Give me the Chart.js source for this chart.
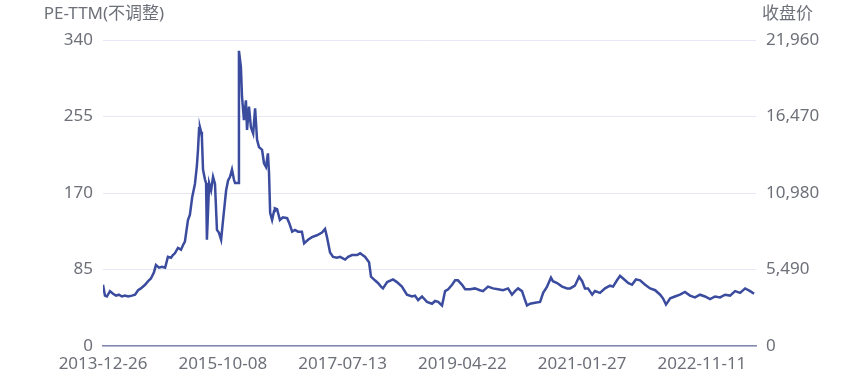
<!DOCTYPE html>
<html>
<head>
<meta charset="utf-8">
<script src="https://cdn.jsdelivr.net/npm/chart.js@4.4.1/dist/chart.umd.min.js"></script>
<style>
html,body{margin:0;padding:0;background:#fff;}
#wrap{width:865px;height:379px;}
</style>
</head>
<body>
<div id="wrap"><canvas id="c" width="865" height="379"></canvas></div>
<script>
// Trading-day index of each sampled point (0 = 2013-12-26)
const peDay = [0,7,14,25,36,47,57,68,79,90,104,115,126,136,151,162,172,183,190,201,212,223,233,244,251,258,269,280,287,294,305,312,320,330,337,341,345,348,352,355,359,366,370,373,381,388,395,402,409,416,424,431,442,449,456,463,470,474,485,488,495,499,503,506,513,517,524,531,539,546,553,560,571,578,585,592,596,600,607,614,617,625,635,646,661,668,679,689,700,714,722,736,750,768,786,797,804,815,826,840,851,869,880,894,912,923,941,955,962,976,987,998,1005,1020,1041,1055,1073,1091,1109,1120,1131,1145,1163,1181,1192,1203,1217,1228,1239,1253,1264,1274,1289,1300,1318,1335,1353,1364,1382,1400,1418,1436,1454,1468,1479,1490,1504,1515,1522,1533,1551,1569,1580,1594,1608,1615,1630,1648,1666,1677,1694,1709,1720,1730,1741,1756,1766,1784,1802,1820,1831,1845,1856,1867,1885,1899,1913,1928,1946,1964,1982,2000,2010,2021,2036,2053,2071,2089,2107,2125,2143,2161,2179,2197,2215,2233,2251,2269,2287,2305,2323,2337];
// PE-TTM values
const peValues = [68,56,55,61,58,56,57,55,56,55,56,57,62,64,68,72,75,82,90,87,88,87,99,98,101,103,109,107,112,116,140,146,165,180,200,218,242,243,238,232,196,185,181,118,181,173,188,180,129,126,118,140,173,184,188,196,185,181,181,328,310,277,262,251,273,240,266,243,236,264,229,221,218,203,199,214,192,148,140,150,153,152,140,143,142,137,127,129,127,127,114,118,121,123,126,130,121,104,99,98,99,96,99,101,101,103,99,93,77,73,70,66,64,71,74,71,66,57,55,56,51,55,49,47,50,49,45,61,63,68,73,73,68,63,63,64,62,61,66,64,63,62,64,57,61,64,61,51,45,47,48,49,59,66,76,72,70,66,64,64,67,77,72,64,64,57,61,59,64,67,66,73,78,75,70,68,74,73,68,64,62,57,53,46,53,55,57,60,56,54,57,55,52,55,54,57,56,61,59,64,61,58];
// X-axis tick labels and their trading-day index
const tickLabels = ['2013-12-26','2015-10-08','2017-07-13','2019-04-22','2021-01-27','2022-11-11'];
const tickDays = [0,430,860,1290,1720,2150];
const lastDay = 2344;
// Axis ranges
const peMax = 340, peStep = 85;
const closeMax = 21960, closeStep = 5490;
const leftTitle = 'PE-TTM(不调整)';
const rightTitle = '收盘价';

const FONT = '"Noto Sans", "Noto Sans CJK SC", sans-serif';
const TXT = '#6e7079';
const FS = 17;

const titlesPlugin = {
  id: 'axisTitles',
  afterDraw(chart) {
    const {ctx, chartArea} = chart;
    ctx.save();
    ctx.fillStyle = TXT;
    ctx.font = FS + 'px ' + FONT;
    ctx.textBaseline = 'middle';
    ctx.textAlign = 'center';
    ctx.fillText(leftTitle, chartArea.left + 1, 14);
    ctx.textAlign = 'left';
    ctx.fillText(rightTitle, chartArea.right + 6, 14);
    ctx.restore();
  }
};

new Chart(document.getElementById('c'), {
  type: 'line',
  data: {
    datasets: [{
      label: leftTitle,
      data: peDay.map((d, i) => ({x: d, y: peValues[i]})),
      borderColor: '#3b4c9f',
      borderWidth: 2.5,
      pointRadius: 0,
      tension: 0,
      fill: false,
      yAxisID: 'y'
    }]
  },
  options: {
    responsive: false,
    animation: false,
    events: [],
    layout: {padding: {top: 40, bottom: 0, left: 0, right: 0}},
    plugins: {legend: {display: false}, tooltip: {enabled: false}},
    scales: {
      x: {
        type: 'linear',
        min: 0,
        max: lastDay,
        afterBuildTicks(axis) { axis.ticks = tickDays.map(v => ({value: v})); },
        afterFit(axis) { axis.height = 33; },
        ticks: {
          autoSkip: false,
          maxRotation: 0,
          padding: 8,
          color: TXT,
          font: {family: FONT, size: FS},
          callback(v, i) { return tickLabels[i]; }
        },
        grid: {display: false, drawTicks: false},
        border: {display: true, color: '#8288ad', width: 1.5}
      },
      y: {
        position: 'left',
        min: 0,
        max: peMax,
        afterFit(axis) { axis.width = 103; },
        ticks: {stepSize: peStep, padding: 10, color: TXT, font: {family: FONT, size: FS}},
        grid: {color: '#e6e8f5', lineWidth: 1, drawTicks: false},
        border: {display: false}
      },
      y1: {
        position: 'right',
        min: 0,
        max: closeMax,
        afterFit(axis) { axis.width = 109; },
        ticks: {
          stepSize: closeStep,
          padding: 10,
          color: TXT,
          font: {family: FONT, size: FS},
          callback(v) { return v.toLocaleString('en-US'); }
        },
        grid: {display: false, drawTicks: false},
        border: {display: false}
      }
    }
  },
  plugins: [titlesPlugin]
});
</script>
</body>
</html>
